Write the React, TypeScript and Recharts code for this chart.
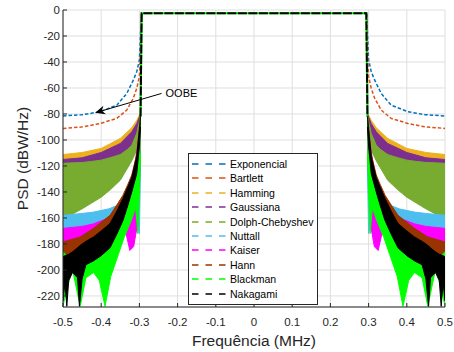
import React from "react"
import { ComposedChart, Area, Line, XAxis, YAxis, CartesianGrid, ReferenceLine } from "recharts"

const freqTicks = [-0.5, -0.4, -0.3, -0.2, -0.1, 0, 0.1, 0.2, 0.3, 0.4, 0.5]
const psdTicks = [0, -20, -40, -60, -80, -100, -120, -140, -160, -180, -200, -220]

// left half of the spectrum, [freq MHz, dBW/Hz]; the right half is its mirror image
const exponencial = [
  [-0.5, -81.5], [-0.447, -80.5], [-0.403, -78.3], [-0.359, -73.2], [-0.333, -64.2],
  [-0.316, -54], [-0.307, -47.5], [-0.3, -38.5], [-0.297, -18], [-0.295, -3],
]
const bartlett = [
  [-0.5, -91.1], [-0.447, -89.9], [-0.403, -87.3], [-0.359, -83.4], [-0.333, -77],
  [-0.316, -68], [-0.307, -60.3], [-0.3, -51.3], [-0.297, -31], [-0.295, -3],
]

// noisy bands, [freq, low, high]
const hamming = [
  [-0.5, -118, -111.2], [-0.45, -117, -109.6], [-0.4, -114, -106.5], [-0.35, -108, -98.8],
  [-0.32, -99, -90.6], [-0.307, -92, -85], [-0.2985, -128, -80], [-0.297, -90, -78],
]
const gaussiana = [
  [-0.5, -121, -115], [-0.45, -120, -113.7], [-0.4, -118, -109.6], [-0.35, -113, -102.7],
  [-0.32, -106, -93.7], [-0.307, -97, -87.5], [-0.297, -88, -80],
]
const dolphChebyshev = [
  [-0.5, -160, -118], [-0.475, -157, -117.6], [-0.45, -153, -117.3], [-0.425, -148.5, -116.5],
  [-0.4, -144, -115.5], [-0.375, -138, -113.5], [-0.35, -131, -111.2], [-0.33, -121, -107],
  [-0.32, -116, -104], [-0.307, -108, -95], [-0.297, -95, -82],
]
const nuttall = [
  [-0.5, -168, -158], [-0.45, -166.5, -156.5], [-0.42, -164.5, -155.5], [-0.38, -161, -153],
  [-0.36, -158, -150.6], [-0.34, -152, -143], [-0.32, -150, -130], [-0.307, -160, -112],
  [-0.3, -172, -95], [-0.297, -120, -85],
]
const kaiser = [
  [-0.5, -179, -168], [-0.45, -177, -166.5], [-0.42, -174, -164.5], [-0.38, -168, -160],
  [-0.35, -164, -152], [-0.335, -172, -142], [-0.325, -185, -135], [-0.315, -182, -125],
  [-0.305, -165, -105], [-0.297, -110, -85],
]
const hann = [
  [-0.5, -192, -178.4], [-0.455, -183, -174.6], [-0.42, -176, -168], [-0.377, -166, -158],
  [-0.36, -157, -150.5], [-0.343, -147, -142.5], [-0.33, -139, -134], [-0.32, -132, -127],
  [-0.307, -118, -111], [-0.3, -98, -90], [-0.297, -85, -80],
]
const blackman = [
  [-0.5, -228, -186], [-0.49, -214, -189], [-0.475, -200, -190], [-0.455, -228, -192],
  [-0.44, -206, -193], [-0.42, -202, -192], [-0.405, -208, -188], [-0.39, -228, -185],
  [-0.375, -205, -180], [-0.355, -188, -170], [-0.34, -175, -160], [-0.32, -161, -140],
  [-0.31, -152, -128], [-0.304, -172, -112], [-0.3, -140, -95], [-0.297, -110, -82],
]
const nakagami = [
  [-0.5, -224, -190], [-0.495, -210, -189], [-0.49, -228, -188.5], [-0.485, -208, -188],
  [-0.475, -202, -186], [-0.462, -206, -183], [-0.457, -228, -181.5], [-0.45, -207, -180],
  [-0.44, -196, -178], [-0.42, -193, -174.6], [-0.4, -189, -170], [-0.377, -183, -164.3],
  [-0.36, -173, -155.3], [-0.343, -162, -145], [-0.33, -150, -136], [-0.32, -140, -129],
  [-0.307, -126, -113], [-0.3, -105, -92], [-0.297, -90, -82],
]

// flat passband shared by every window
const passband = [[-0.297, -82], [-0.294, -2.5], [0.294, -2.5], [0.297, -82]]

const oobeFrom = { x: -0.242, y: -64.2 }
const oobeTo = { x: -0.416, y: -79.1 }

const series = [
  { name: "Exponencial", color: "#0072BD", rows: exponencial },
  { name: "Bartlett", color: "#D95319", rows: bartlett },
  { name: "Hamming", color: "#EDB120", rows: hamming },
  { name: "Gaussiana", color: "#7E2F8E", rows: gaussiana },
  { name: "Dolph-Chebyshev", color: "#77AC30", rows: dolphChebyshev },
  { name: "Nuttall", color: "#4DBEEE", rows: nuttall },
  { name: "Kaiser", color: "#FF00FF", rows: kaiser },
  { name: "Hann", color: "#993300", rows: hann },
  { name: "Blackman", color: "#00FF00", rows: blackman },
  { name: "Nakagami", color: "#000000", rows: nakagami },
]

const half = (rows: number[][], sign: number) => {
  const out = rows.map(([f, a, b]) => ({ f: sign * f, v: b === undefined ? a : [a, b] }))
  return sign < 0 ? out.reverse() : out
}

const axisColor = "#262626"

const OobeArrow = (props: any) => {
  const { x1, y1, x2, y2 } = props
  if (x1 == null) return null
  const dx = x2 - x1
  const dy = y2 - y1
  const len = Math.sqrt(dx * dx + dy * dy)
  const ux = dx / len
  const uy = dy / len
  const nx = -uy
  const ny = ux
  const bx = x2 - ux * 10
  const by = y2 - uy * 10
  const kx = x2 - ux * 7
  const ky = y2 - uy * 7
  const head = `${x2},${y2} ${bx + nx * 4.5},${by + ny * 4.5} ${kx},${ky} ${bx - nx * 4.5},${by - ny * 4.5}`
  return (
    <g>
      <line x1={x1} y1={y1} x2={kx} y2={ky} stroke="#000" strokeWidth={1} />
      <polygon points={head} fill="#000" />
      <text x={x1 + 4} y={y1 + 4} fontSize={11} fill="#000">OOBE</text>
    </g>
  )
}

export default function App() {
  return (
    <div style={{ position: "absolute", left: 0, top: 0, width: 454, height: 352, background: "#fff", fontFamily: "'Liberation Sans', Arial, sans-serif" }}>
      <ComposedChart width={454} height={352} margin={{ top: 10, right: 9, bottom: 0, left: 0 }}>
        <CartesianGrid stroke="#dfdfdf" />
        <XAxis
          type="number"
          dataKey="f"
          domain={[-0.5, 0.5]}
          ticks={freqTicks}
          allowDataOverflow
          height={45}
          stroke={axisColor}
          tickSize={-4}
          tickMargin={15}
          tick={{ fill: axisColor, fontSize: 11.5 }}
          label={{ value: "Frequência (MHz)", position: "insideBottom", offset: 6, fill: axisColor, fontSize: 15.5 }}
        />
        <XAxis xAxisId="top" orientation="top" type="number" domain={[-0.5, 0.5]} ticks={freqTicks} height={0} stroke={axisColor} tickSize={-4} tick={false} />
        <YAxis
          type="number"
          domain={[-228.5, 0]}
          ticks={psdTicks}
          allowDataOverflow
          width={63}
          stroke={axisColor}
          tickSize={-4}
          tickMargin={7}
          tick={{ fill: axisColor, fontSize: 11.5 }}
          label={{ value: "PSD (dBW/Hz)", angle: -90, position: "insideLeft", offset: 22, fill: axisColor, fontSize: 15.5, style: { textAnchor: "middle" } }}
        />
        <YAxis yAxisId="right" orientation="right" type="number" domain={[-228.5, 0]} ticks={psdTicks} width={0} stroke={axisColor} tickSize={-4} tick={false} />

        {series.map((s, i) =>
          i < 2
            ? [-1, 1].map((sign) => (
                <Line
                  key={s.name + sign}
                  data={half(s.rows, sign)}
                  dataKey="v"
                  type="linear"
                  stroke={s.color}
                  strokeWidth={1.5}
                  strokeDasharray="3.5 2"
                  dot={false}
                  activeDot={false}
                  isAnimationActive={false}
                />
              ))
            : [-1, 1].map((sign) => (
                <Area
                  key={s.name + sign}
                  data={half(s.rows, sign)}
                  dataKey="v"
                  type="linear"
                  stroke={s.color}
                  strokeWidth={1}
                  fill={s.color}
                  fillOpacity={1}
                  dot={false}
                  activeDot={false}
                  isAnimationActive={false}
                />
              ))
        )}

        <Line data={passband.map(([f, v]) => ({ f, v }))} dataKey="v" type="linear" stroke="#00FF00" strokeWidth={2} dot={false} activeDot={false} isAnimationActive={false} />
        <Line data={passband.map(([f, v]) => ({ f, v }))} dataKey="v" type="linear" stroke="#000" strokeWidth={2} strokeDasharray="9 1.5" dot={false} activeDot={false} isAnimationActive={false} />

        <ReferenceLine segment={[oobeFrom, oobeTo]} shape={<OobeArrow />} ifOverflow="visible" />
      </ComposedChart>

      <div
        style={{
          position: "absolute",
          left: 188,
          top: 153,
          width: 128,
          height: 147,
          border: `1px solid ${axisColor}`,
          background: "#fff",
          boxSizing: "content-box",
          paddingTop: 2.8,
        }}
      >
        {series.map((s) => (
          <div key={s.name} style={{ height: 14.4, display: "flex", alignItems: "center", fontSize: 10.5, color: "#000" }}>
            <svg width={38} height={4} style={{ marginLeft: 3, flex: "none" }}>
              <line x1={0} y1={2} x2={35} y2={2} stroke={s.color} strokeWidth={1.3} strokeDasharray="6.5 7" />
            </svg>
            <span style={{ marginLeft: 0, whiteSpace: "nowrap" }}>{s.name}</span>
          </div>
        ))}
      </div>
    </div>
  )
}
